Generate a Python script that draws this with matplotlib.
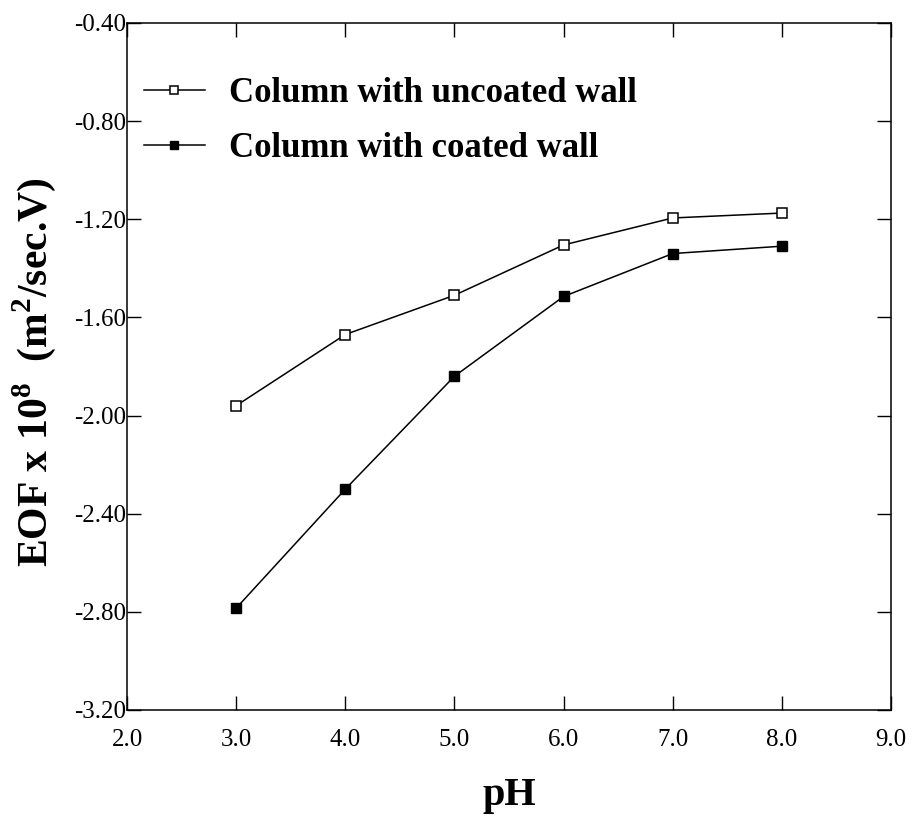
import matplotlib
matplotlib.use("Agg")
import matplotlib.pyplot as plt

plt.rcParams['font.family'] = ['Liberation Serif', 'DejaVu Serif']
plt.rcParams['mathtext.fontset'] = 'custom'
plt.rcParams['mathtext.rm'] = 'Liberation Serif:bold'
plt.rcParams['mathtext.bf'] = 'Liberation Serif:bold'

ph = [3.0, 4.0, 5.0, 6.0, 7.0, 8.0]
eof_uncoated = [-1.96, -1.67, -1.51, -1.305, -1.195, -1.175]
eof_coated = [-2.785, -2.30, -1.84, -1.515, -1.34, -1.31]

x_ticks = [2.0, 3.0, 4.0, 5.0, 6.0, 7.0, 8.0, 9.0]
y_ticks = [-3.2, -2.8, -2.4, -2.0, -1.6, -1.2, -0.8, -0.4]

fig = plt.figure(figsize=(9.16, 8.17), dpi=100)
ax = fig.add_axes([0.1387, 0.131, 0.834, 0.841])

ax.plot(ph, eof_uncoated, color='black', linewidth=1.1, marker='s', markersize=7,
        markerfacecolor='white', markeredgecolor='black', markeredgewidth=1.1,
        label='Column with uncoated wall')
ax.plot(ph, eof_coated, color='black', linewidth=1.1, marker='s', markersize=7,
        markerfacecolor='black', markeredgecolor='black',
        label='Column with coated wall')

ax.set_xlim(2.0, 9.0)
ax.set_ylim(-3.2, -0.4)
ax.set_xticks(x_ticks)
ax.set_xticklabels(['%.1f' % v for v in x_ticks])
ax.set_yticks(y_ticks)
ax.set_yticklabels(['%.2f' % v for v in y_ticks])
ax.tick_params(direction='in', length=10, width=1, labelsize=18, top=True, right=True)
ax.tick_params(axis='y', pad=1)
ax.tick_params(axis='x', pad=14)
for s in ax.spines.values():
    s.set_linewidth(1.1)

ax.set_xlabel('pH', fontsize=29, fontweight='bold')
ax.xaxis.set_label_coords(0.5, -0.098)
ax.set_ylabel(r'EOF x 10$^{\mathbf{8}}$  (m$^{\mathbf{2}}$/sec.V)', fontsize=30,
              fontweight='bold')
ax.yaxis.set_label_coords(-0.09, 0.492)

ax.legend(loc='upper left', bbox_to_anchor=(0.022, 0.921), frameon=False,
          prop={'weight': 'bold', 'size': 25}, handlelength=1.75, handletextpad=0.7,
          labelspacing=0.62, borderpad=0, borderaxespad=0, markerscale=0.9)

fig.savefig('out.png', dpi=100)
